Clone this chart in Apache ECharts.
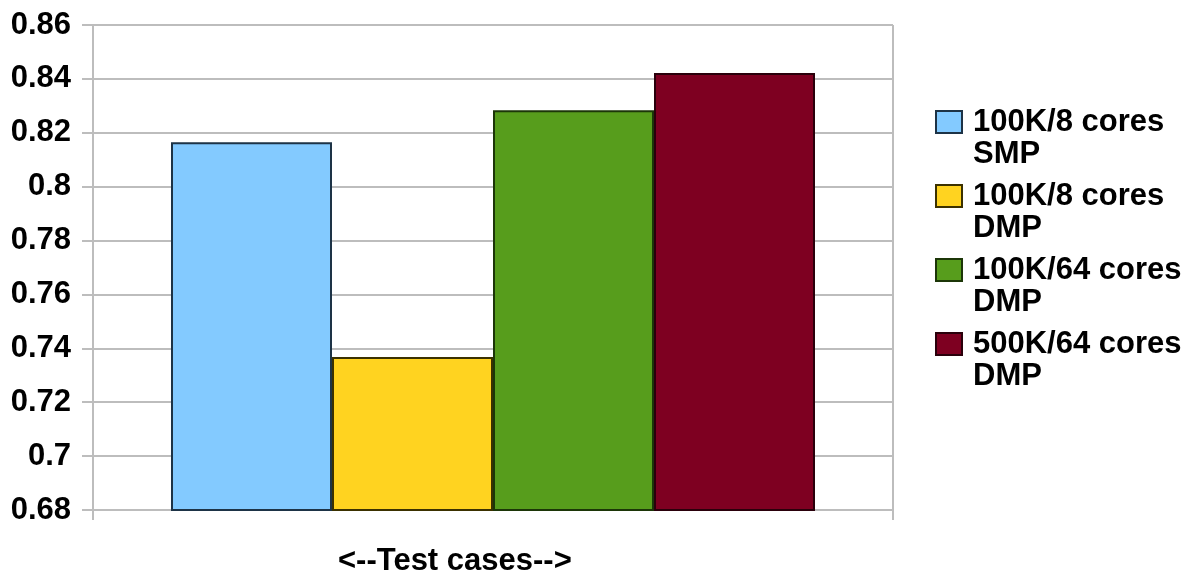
<!DOCTYPE html>
<html>
<head>
<meta charset="utf-8">
<script src="https://cdn.jsdelivr.net/npm/echarts@6/dist/echarts.min.js"></script>
<style>html,body{margin:0;padding:0;background:#fff}#c{width:1193px;height:573px}</style>
</head>
<body>
<div id="c"></div>
<script>
var categories = ['Test cases'];
var seriesNames = ['100K/8 cores\nSMP', '100K/8 cores\nDMP', '100K/64 cores\nDMP', '500K/64 cores\nDMP'];
var seriesValues = [[0.8165], [0.7368], [0.8284], [0.8422]];
var seriesColors = ['#83caff', '#ffd320', '#579d1c', '#7e0021'];
var borderColors = ['#1d3346', '#3b3100', '#1c3608', '#2a000b'];
var yTicks = { min: 0.68, max: 0.86, interval: 0.02 };
var xTitle = '<--Test cases-->';

var font = 'Liberation Sans, Arial, sans-serif';
var gray = '#bdbdbd';
var chart = echarts.init(document.getElementById('c'));
chart.setOption({
  animation: false,
  backgroundColor: '#fff',
  title: {
    text: xTitle, left: 333, top: 541,
    textStyle: { fontFamily: font, fontSize: 31, fontWeight: 'bold', color: '#000' }
  },
  legend: {
    orient: 'vertical', left: 935, top: 74, padding: 0,
    itemWidth: 26, itemHeight: 22, itemGap: -22,
    formatter: function (name) { return '\n' + name; },
    textStyle: { fontFamily: font, fontSize: 31, fontWeight: 'bold', lineHeight: 32, color: '#000', padding: [0, 0, 0, 6] },
    data: seriesNames.map(function (n, i) {
      return { name: n, icon: 'rect', itemStyle: { color: seriesColors[i], borderColor: borderColors[i], borderWidth: 2 } };
    })
  },
  grid: { left: 93, right: 300, top: 25, bottom: 63, containLabel: false },
  xAxis: {
    type: 'category', data: categories,
    axisLine: { show: true, lineStyle: { color: gray, width: 2 } },
    axisTick: { show: true, length: 10, lineStyle: { color: gray, width: 2 } },
    axisLabel: { show: false },
    splitLine: { show: true, lineStyle: { color: gray, width: 2 } }
  },
  yAxis: {
    type: 'value', min: yTicks.min, max: yTicks.max, interval: yTicks.interval,
    axisLine: { show: true, lineStyle: { color: gray, width: 2 } },
    axisTick: { show: true, length: 11, lineStyle: { color: gray, width: 2 } },
    axisLabel: {
      margin: 22, fontFamily: font, fontSize: 31, fontWeight: 'bold', color: '#000',
      formatter: function (v) { return String(parseFloat(v.toFixed(2))); }
    },
    splitLine: { show: true, lineStyle: { color: gray, width: 2 } }
  },
  series: seriesNames.map(function (n, i) {
    return {
      name: n, type: 'bar', data: seriesValues[i],
      barGap: '0%', barCategoryGap: '19.5%',
      itemStyle: { color: seriesColors[i], borderColor: borderColors[i], borderWidth: 2 }
    };
  })
});
</script>
</body>
</html>
